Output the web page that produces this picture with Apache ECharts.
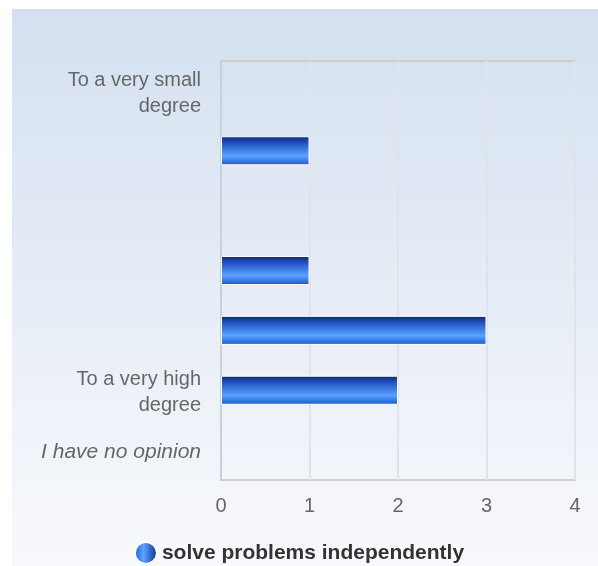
<!DOCTYPE html>
<html><head><meta charset="utf-8">
<script src="https://cdn.jsdelivr.net/npm/echarts@6/dist/echarts.min.js"></script>
<style>html,body{margin:0;padding:0;background:#fff}#c{width:598px;height:566px}</style>
</head><body><div id="c"></div>
<script>
const categories = ["To a very small\ndegree", "", "", "", "", "To a very high\ndegree", "I have no opinion"];
const values = [0, 1, 0, 1, 3, 2, 0];
const xTicks = [0, 1, 2, 3, 4];
const seriesName = "solve problems independently";

const chart = echarts.init(document.getElementById('c'));
const barGrad = new echarts.graphic.LinearGradient(0, 0, 0, 1, [
  {offset: 0, color: '#08267f'},
  {offset: 0.3, color: '#2a5fcc'},
  {offset: 0.68, color: '#5aa2ff'},
  {offset: 1, color: '#1856cc'}
]);
const legGrad = new echarts.graphic.LinearGradient(0, 0, 1, 0, [
  {offset: 0, color: '#1a5cd4'},
  {offset: 0.4, color: '#5ba3ff'},
  {offset: 1, color: '#0a2a88'}
]);
chart.setOption({
  animation: false,
  graphic: [{
    type: 'rect', left: 12, top: 9, z: -10, silent: true,
    shape: {width: 586, height: 557},
    style: {fill: new echarts.graphic.LinearGradient(0, 0, 0, 1, [
      {offset: 0, color: '#d4e0f0'},
      {offset: 1, color: '#f8f9fc'}
    ])}
  }],
  grid: {left: 221, top: 61, width: 354, height: 419, show: true, borderColor: '#cfcfcf', borderWidth: 2, backgroundColor: 'transparent'},
  xAxis: {
    type: 'value', min: xTicks[0], max: xTicks[xTicks.length - 1], interval: 1,
    axisLine: {show: false}, axisTick: {show: false},
    splitLine: {show: true, lineStyle: {color: '#dfe3ea', width: 2}},
    axisLabel: {color: '#666', fontSize: 20, fontFamily: 'Liberation Sans', margin: 16}
  },
  yAxis: {
    type: 'category', data: categories, inverse: true,
    axisLine: {show: true, lineStyle: {color: '#c8d0de', width: 2}},
    axisTick: {show: false},
    axisLabel: {
      color: '#666', fontSize: 20, fontFamily: 'Liberation Sans', margin: 20, lineHeight: 26, align: 'right',
      padding: [5, 0, 0, 0],
      formatter: v => v === 'I have no opinion' ? '{i|' + v + '}' : v,
      rich: {i: {fontStyle: 'italic', color: '#666', fontSize: 21, fontFamily: 'Liberation Sans'}}
    }
  },
  legend: {
    top: 536, left: 'center', itemWidth: 22, itemHeight: 22, itemGap: 7,
    data: [{name: seriesName, icon: 'circle', itemStyle: {color: legGrad}}],
    textStyle: {color: '#333', fontSize: 21, fontWeight: 'bold', fontFamily: 'Liberation Sans'}
  },
  series: [{
    name: seriesName, type: 'bar', data: values.map(v => v === 0 ? '-' : v), barWidth: 29,
    itemStyle: {color: barGrad, borderColor: '#fff', borderWidth: 1}
  }]
});
</script></body></html>
